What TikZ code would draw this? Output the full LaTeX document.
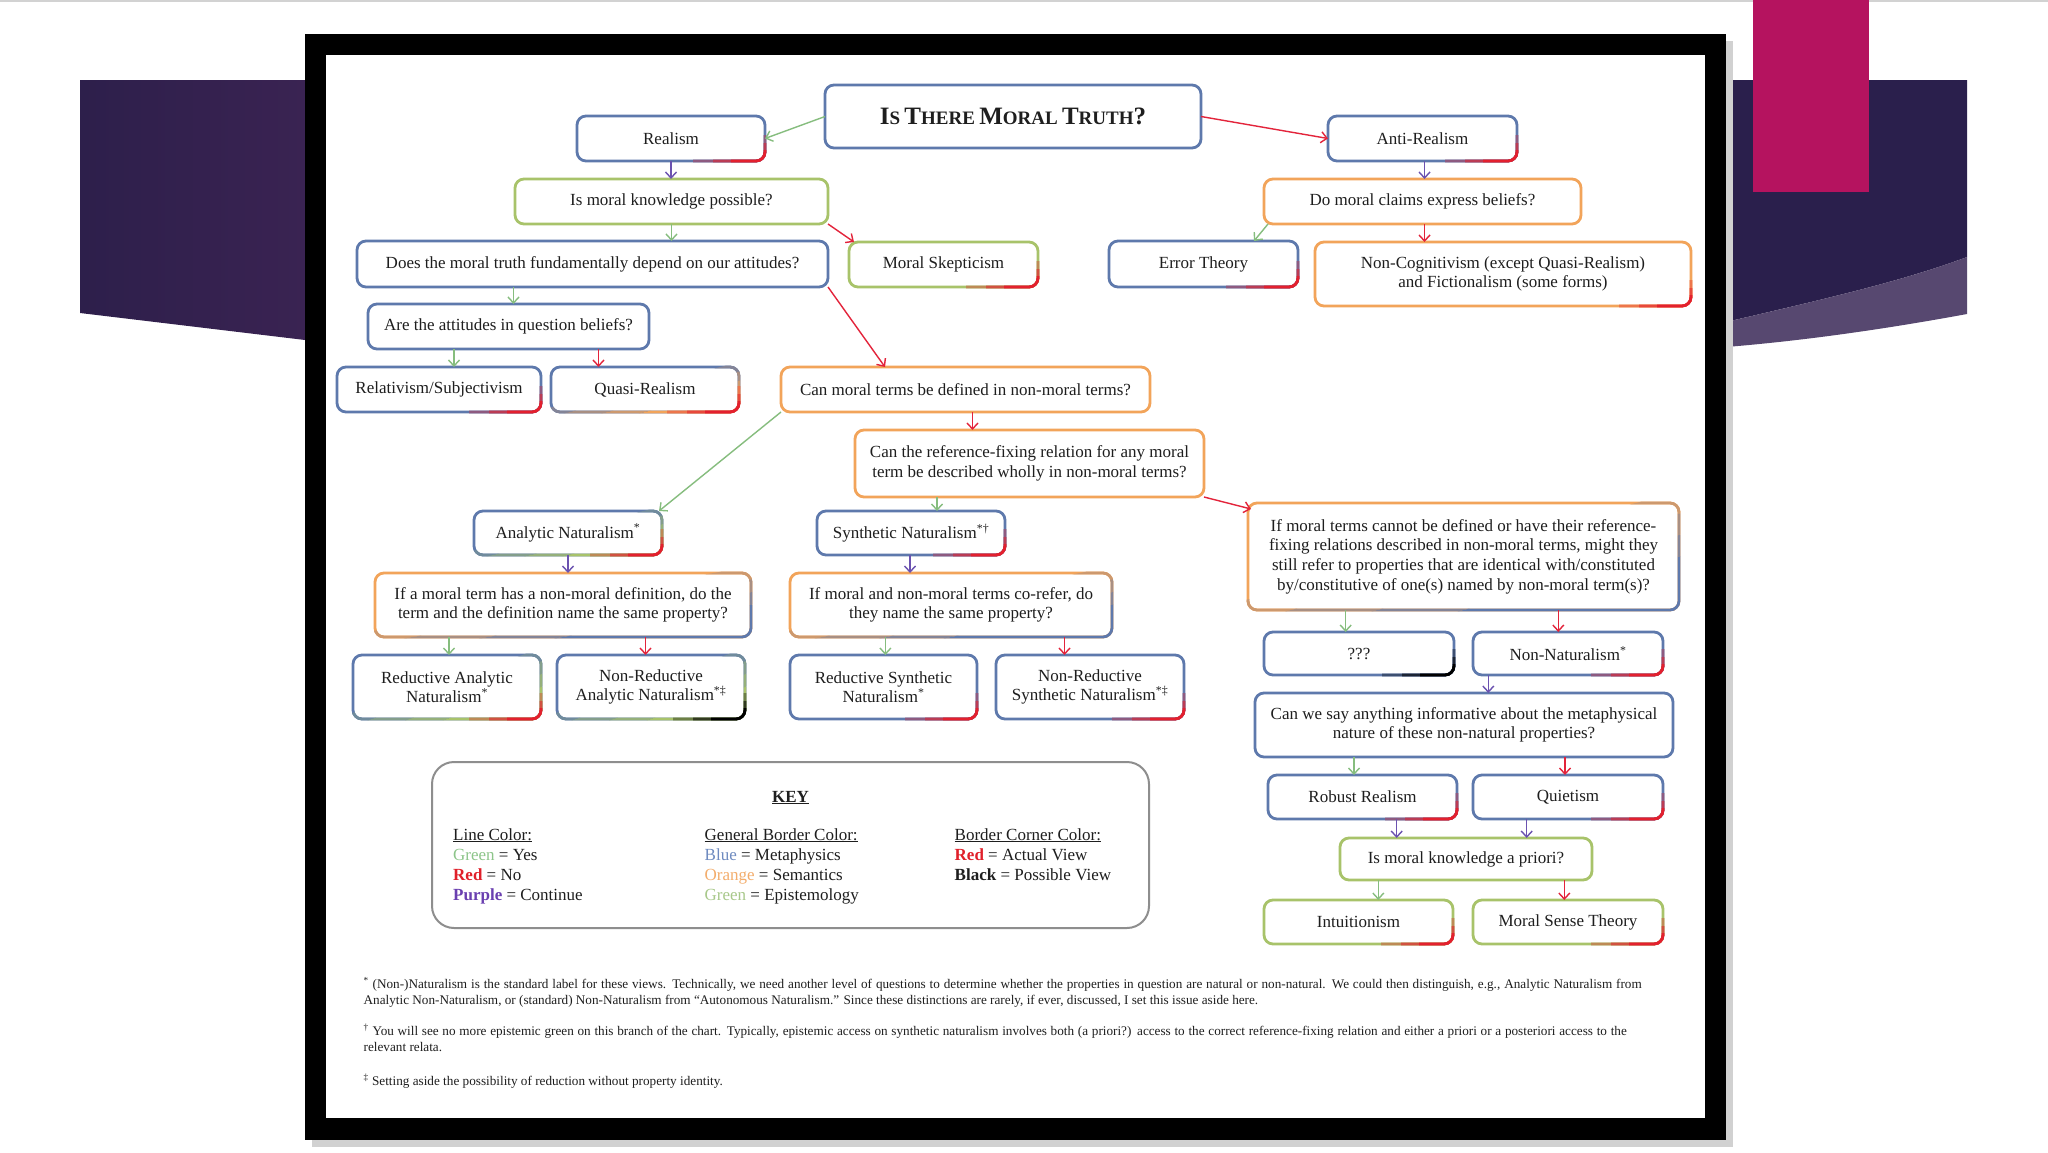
\documentclass[tikz,border=0pt]{standalone}
\usepackage{fontspec}
\setmainfont{Liberation Serif}
\usetikzlibrary{arrows.meta,calc}
\definecolor{bblue}{HTML}{5E79AC}
\definecolor{borange}{HTML}{F2A45A}
\definecolor{bgreen}{HTML}{A8C36A}
\definecolor{cred}{HTML}{E3202E}
\definecolor{agreen}{HTML}{86BD7E}
\definecolor{ared}{HTML}{E3243B}
\definecolor{apurple}{HTML}{6B52B0}
\definecolor{txt}{HTML}{1E1E1E}
\definecolor{band1}{HTML}{2D1F4B}
\definecolor{band2}{HTML}{3A2352}
\definecolor{band3}{HTML}{2A1F4C}
\definecolor{band4}{HTML}{574870}
\definecolor{mag}{HTML}{B5135F}
\definecolor{keygray}{HTML}{8E8E8E}
\definecolor{kgreen}{HTML}{8DC58A}
\definecolor{kred}{HTML}{E0202A}
\definecolor{kpurple}{HTML}{6A3FB0}
\definecolor{kblue}{HTML}{6F8BC0}
\definecolor{korange}{HTML}{F3AD6C}
\definecolor{kgreenb}{HTML}{A8C88A}
\newcommand\nodefont{\fontsize{17}{19.6}\selectfont}
\newcommand\fnfont{\fontsize{13.2}{15}\selectfont}
\newcommand\BCa[1]{{\fontsize{25}{25}\selectfont #1}}
\newcommand\SCa[1]{{\fontsize{19}{19}\selectfont #1}}
\tikzset{
  box/.style={fill=white, line width=2.8pt, rounded corners=9pt, inner sep=0pt, outer sep=0pt, align=center, font=\nodefont, text=txt},
  boxline/.style={line width=2.8pt, rounded corners=9pt},
  conn/.style={line width=1.4pt, -{Straight Barb[length=6pt,width=11pt]}},
  keytxt/.style={anchor=base west, font=\nodefont, text=txt, inner sep=0pt},
  fntxt/.style={anchor=base west, font=\fnfont, text=txt, inner sep=0pt},
}
\newcommand\mkbox[7]{\def\xa{#2}\def\ya{#3}\def\xb{#4}\def\yb{#5}%
  \node[box, draw=#6, minimum width={#4-#2}, minimum height={#5-#3}] (#1) at ({(#2+#4)/2},{(#3+#5)/2}) {#7};}
\newcommand\gbnd[3]{\begin{scope}\clip ({\xa+(#1-2)*(\xb-\xa)},{\ya+2*(\yb-\ya)}) -- ({\xa+(#1+2)*(\xb-\xa)},{\ya-2*(\yb-\ya)}) -- ({\xa+(#2+2)*(\xb-\xa)},{\ya-2*(\yb-\ya)}) -- ({\xa+(#2-2)*(\xb-\xa)},{\ya+2*(\yb-\ya)}) -- cycle;
  \draw[boxline,#3] (\xa,\ya) rectangle (\xb,\yb);\end{scope}}
\newcommand\mkgrad[2]{\gbnd{0.9}{1.1}{#2!25!#1}\gbnd{1.1}{1.3}{#2!50!#1}\gbnd{1.3}{1.5}{#2!75!#1}\gbnd{1.5}{3.5}{#2}}
\newcommand\mkcrn[2]{%
  \begin{scope}\clip ({\xb-72},{\yb-26}) rectangle ({\xb+6},{\yb+6});\draw[boxline,#2!35!#1] (\xa,\ya) rectangle (\xb,\yb);\end{scope}
  \begin{scope}\clip ({\xb-52},{\yb-18}) rectangle ({\xb+6},{\yb+6});\draw[boxline,#2!70!#1] (\xa,\ya) rectangle (\xb,\yb);\end{scope}
  \begin{scope}\clip ({\xb-34},{\yb-11}) rectangle ({\xb+6},{\yb+6});\draw[boxline,#2] (\xa,\ya) rectangle (\xb,\yb);\end{scope}}
\newcommand\vconn[4]{\draw[conn,#1] let \p1=($(#2.south)+(#4,0)$), \p2=(#3.north) in (\p1) -- (\x1,\y2);}
\begin{document}
\begin{tikzpicture}[x=1pt,y=-1pt]
\useasboundingbox (0,0) rectangle (2048,1152);
\fill[white] (0,0) rectangle (2048,1152);
\draw[gray!35, line width=1.5pt] (0,0.75) -- (2048,0.75);
% slide decoration
\shade[left color=band1, right color=band2] (80,80) -- (305,80) -- (305,340) -- (80,313) -- cycle;
\fill[band3] (1726,80) -- (1967,80) -- (1967,257) .. controls (1900,282) and (1820,300) .. (1726,322) -- cycle;
\fill[band4] (1726,322) .. controls (1820,300) and (1900,282) .. (1967,257) -- (1967,314) .. controls (1880,330) and (1800,341) .. (1726,347) -- cycle;
\fill[mag] (1753,0) rectangle (1869,192);
% frame
\fill[black!18] (312,41) rectangle (1733,1147);
\fill[black] (305,34) rectangle (1726,1140);
\fill[white] (326,55) rectangle (1705,1118);

% boxes
\mkbox{title}{825}{85}{1201}{148}{bblue}{\bfseries\BCa{I}\SCa{S} \BCa{T}\SCa{HERE} \BCa{M}\SCa{ORAL} \BCa{T}\SCa{RUTH}\BCa{?}}
\mkbox{realism}{577}{116}{765}{161}{bblue}{Realism}\mkcrn{bblue}{cred}
\mkbox{anti}{1328}{116}{1517}{161}{bblue}{Anti-Realism}\mkcrn{bblue}{cred}
\mkbox{knowp}{515}{179}{828}{224}{bgreen}{Is moral knowledge possible?}
\mkbox{claims}{1264}{179}{1581}{224}{borange}{Do moral claims express beliefs?}
\mkbox{depend}{357}{241}{828}{287}{bblue}{Does the moral truth fundamentally depend on our attitudes?}
\mkbox{skept}{849}{242}{1038}{287}{bgreen}{Moral Skepticism}\mkcrn{bgreen}{cred}
\mkbox{error}{1109}{241}{1298}{287}{bblue}{Error Theory}\mkcrn{bblue}{cred}
\mkbox{noncog}{1315}{242}{1691}{306}{borange}{Non-Cognitivism (except Quasi-Realism)\\and Fictionalism (some forms)}\mkcrn{borange}{cred}
\mkbox{attit}{368}{304}{649}{349}{bblue}{Are the attitudes in question beliefs?}
\mkbox{relat}{337}{367}{541}{412}{bblue}{Relativism/Subjectivism}\mkcrn{bblue}{cred}
\mkbox{quasi}{551}{367}{739}{412}{bblue}{Quasi-Realism}\mkgrad{bblue}{borange}\mkcrn{borange}{cred}
\mkbox{defin}{781}{367}{1150}{412}{borange}{Can moral terms be defined in non-moral terms?}
\mkbox{reffix}{855}{430}{1204}{497}{borange}{Can the reference-fixing relation for any moral\\term be described wholly in non-moral terms?}
\mkbox{analyt}{474}{511}{662}{555}{bblue}{Analytic Naturalism\textsuperscript{*}}\mkgrad{bblue}{bgreen}\mkcrn{bgreen}{cred}
\mkbox{synth}{817}{511}{1005}{555}{bblue}{Synthetic Naturalism\textsuperscript{*†}}\mkcrn{bblue}{cred}
\mkbox{ifterm}{375}{573}{751}{637}{borange}{If a moral term has a non-moral definition, do the\\term and the definition name the same property?}\mkgrad{borange}{bblue}
\mkbox{ifcoref}{790}{573}{1112}{637}{borange}{If moral and non-moral terms co-refer, do\\they name the same property?}\mkgrad{borange}{bblue}
\mkbox{redan}{353}{655}{541}{719}{bblue}{Reductive Analytic\\Naturalism\textsuperscript{*}}\mkgrad{bblue}{bgreen}\mkcrn{bgreen}{cred}
\mkbox{nonredan}{557}{655}{745}{719}{bblue}{Non-Reductive\\Analytic Naturalism\textsuperscript{*‡}}\mkgrad{bblue}{bgreen}\mkcrn{bgreen}{black}
\mkbox{redsyn}{790}{655}{977}{719}{bblue}{Reductive Synthetic\\Naturalism\textsuperscript{*}}\mkcrn{bblue}{cred}
\mkbox{nonredsyn}{996}{655}{1184}{719}{bblue}{Non-Reductive\\Synthetic Naturalism\textsuperscript{*‡}}\mkcrn{bblue}{cred}
\mkbox{ifcannot}{1248}{503}{1679}{610}{borange}{If moral terms cannot be defined or have their reference-\\fixing relations described in non-moral terms, might they\\still refer to properties that are identical with/constituted\\by/constitutive of one(s) named by non-moral term(s)?}\mkgrad{borange}{bblue}
\mkbox{qqq}{1264}{632}{1454}{675}{bblue}{???}\mkcrn{bblue}{black}
\mkbox{nonnat}{1473}{632}{1663}{675}{bblue}{Non-Naturalism\textsuperscript{*}}\mkcrn{bblue}{cred}
\mkbox{cansay}{1255}{693}{1673}{757}{bblue}{Can we say anything informative about the metaphysical\\nature of these non-natural properties?}
\mkbox{robust}{1268}{775}{1457}{819}{bblue}{Robust Realism}\mkcrn{bblue}{cred}
\mkbox{quiet}{1473}{775}{1663}{819}{bblue}{Quietism}\mkcrn{bblue}{cred}
\mkbox{apriori}{1340}{838}{1592}{880}{bgreen}{Is moral knowledge a priori?}
\mkbox{intuit}{1264}{900}{1453}{944}{bgreen}{Intuitionism}\mkcrn{bgreen}{cred}
\mkbox{sense}{1473}{900}{1663}{944}{bgreen}{Moral Sense Theory}\mkcrn{bgreen}{cred}

% connectors
\draw[conn,agreen] (title.west) -- (realism.east);
\draw[conn,ared] (title.east) -- (anti.west);
\vconn{apurple}{realism}{knowp}{0}
\vconn{agreen}{knowp}{depend}{0}
\draw[conn,ared] (knowp.south east) -- ($(skept.north west)+(5,0)$);
\vconn{agreen}{depend}{attit}{-79}
\draw[conn,ared] (depend.south east) -- ($(defin.north west)+(104,0)$);
\vconn{agreen}{attit}{relat}{-54.5}
\vconn{ared}{attit}{quasi}{90}
\vconn{apurple}{anti}{claims}{2}
\draw[conn,agreen] ($(claims.south west)+(4,0)$) -- ($(error.north east)+(-44,0)$);
\vconn{ared}{claims}{noncog}{2}
\vconn{ared}{defin}{reffix}{7}
\draw[conn,agreen] (defin.south west) -- ($(analyt.north east)+(-3,0)$);
\vconn{agreen}{reffix}{synth}{-92.5}
\draw[conn,ared] (reffix.south east) -- ($(ifcannot.north west)+(3,6)$);
\vconn{apurple}{analyt}{ifterm}{0}
\vconn{apurple}{synth}{ifcoref}{-1}
\vconn{agreen}{ifterm}{redan}{-114}
\vconn{ared}{ifterm}{nonredan}{82.5}
\vconn{agreen}{ifcoref}{redsyn}{-65.6}
\vconn{ared}{ifcoref}{nonredsyn}{113.5}
\vconn{agreen}{ifcannot}{qqq}{-117.8}
\vconn{ared}{ifcannot}{nonnat}{94.8}
\vconn{apurple}{nonnat}{cansay}{-79.7}
\vconn{agreen}{cansay}{robust}{-110}
\vconn{ared}{cansay}{quiet}{101}
\vconn{apurple}{robust}{apriori}{34.2}
\vconn{apurple}{quiet}{apriori}{-41.3}
\vconn{agreen}{apriori}{intuit}{-87.7}
\vconn{ared}{apriori}{sense}{98.3}

% key
\node[draw=keygray, line width=2pt, rounded corners=22pt, minimum width=717, minimum height=166, inner sep=0pt] (key) at (790.5,845) {};
\node[keytxt, anchor=base] (keyt) at (790.5,802) {\bfseries\underline{KEY}};
\node[keytxt] (k1a) at (453,840) {\underline{Line Color:}};
\node[keytxt] (k1b) at (453,860) {{\color{kgreen}Green} = Yes};
\node[keytxt] (k1c) at (453,880) {{\color{kred}\bfseries Red} = No};
\node[keytxt] (k1d) at (453,900) {{\color{kpurple}\bfseries Purple} = Continue};
\node[keytxt] (k2a) at (704.5,840) {\underline{General Border Color:}};
\node[keytxt] (k2b) at (704.5,860) {{\color{kblue}Blue} = Metaphysics};
\node[keytxt] (k2c) at (704.5,880) {{\color{korange}Orange} = Semantics};
\node[keytxt] (k2d) at (704.5,900) {{\color{kgreenb}Green} = Epistemology};
\node[keytxt] (k3a) at (954.5,840) {\underline{Border Corner Color:}};
\node[keytxt] (k3b) at (954.5,860) {{\color{kred}\bfseries Red} = Actual View};
\node[keytxt] (k3c) at (954.5,880) {{\bfseries Black} = Possible View};

% footnotes
\node[fntxt] (fn1a) at (363.5,988) {\hbox to 1278pt{\textsuperscript{*} (Non-)Naturalism is the standard label for these views. Technically, we need another level of questions to determine whether the properties in question are natural or non-natural. We could then distinguish, e.g., Analytic Naturalism from}};
\node[fntxt] (fn1b) at (363.5,1004) {Analytic Non-Naturalism, or (standard) Non-Naturalism from “Autonomous Naturalism.” Since these distinctions are rarely, if ever, discussed, I set this issue aside here.};
\node[fntxt] (fn2a) at (363.5,1035) {\hbox to 1263pt{\textsuperscript{†} You will see no more epistemic green on this branch of the chart. Typically, epistemic access on synthetic naturalism involves both (a priori?) access to the correct reference-fixing relation and either a priori or a posteriori access to the}};
\node[fntxt] (fn2b) at (363.5,1051) {relevant relata.};
\node[fntxt] (fn3) at (363.5,1085) {\textsuperscript{‡} Setting aside the possibility of reduction without property identity.};
\end{tikzpicture}
\end{document}
